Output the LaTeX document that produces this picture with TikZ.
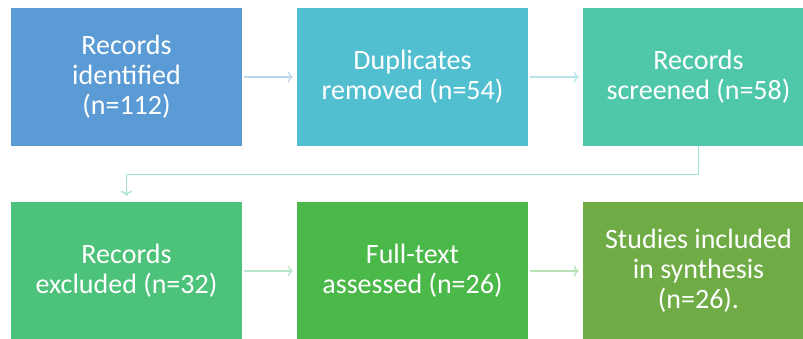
\documentclass[tikz,border=0pt]{standalone}
\usepackage{fontspec}
\setmainfont{Carlito}
\usetikzlibrary{arrows.meta}

\definecolor{identcol}{HTML}{5B9BD5}
\definecolor{dupcol}{HTML}{52BFD0}
\definecolor{screencol}{HTML}{4EC8A9}
\definecolor{exclcol}{HTML}{4CC27A}
\definecolor{fullcol}{HTML}{4BB84A}
\definecolor{inclcol}{HTML}{6FAC46}

\begin{document}
\begin{tikzpicture}[x=1pt,y=-1pt,
    box/.style={minimum width=231pt,minimum height=138pt,inner sep=0pt,
        text=white,align=center,font=\fontsize{28}{30}\selectfont},
    flow/.style={-{To[length=5pt,width=11pt]},line width=1.3pt}]

% Fix the page to the picture size
\useasboundingbox (0,0) rectangle (803,338);
\clip (0,0) rectangle (803,338);

% Draw the boxes
\node[box,fill=identcol] (identified) at (126.5,77) {Records\\identified\\(n=112)};
\node[box,fill=dupcol] (duplicates) at (412.5,77) {Duplicates\\removed (n=54)};
\node[box,fill=screencol] (screened) at (698.5,77) {Records\\screened (n=58)};
\node[box,fill=exclcol] (excluded) at (126.5,271) {Records\\excluded (n=32)};
\node[box,fill=fullcol] (fulltext) at (412.5,271) {Full-text\\assessed (n=26)};
\node[box,fill=inclcol] (included) at (698.5,271) {Studies included\\in synthesis\\(n=26).};

% Draw the arrows
\draw[flow,identcol!40,shorten <=2pt,shorten >=4pt] (identified) -- (duplicates);
\draw[flow,dupcol!40,shorten <=2pt,shorten >=4pt] (duplicates) -- (screened);
\draw[flow,screencol!50,shorten >=6pt] (screened.south) -- ++(0,28) -| (excluded.north);
\draw[flow,exclcol!40,shorten <=2pt,shorten >=4pt] (excluded) -- (fulltext);
\draw[flow,fullcol!40,shorten <=2pt,shorten >=4pt] (fulltext) -- (included);

\end{tikzpicture}
\end{document}
